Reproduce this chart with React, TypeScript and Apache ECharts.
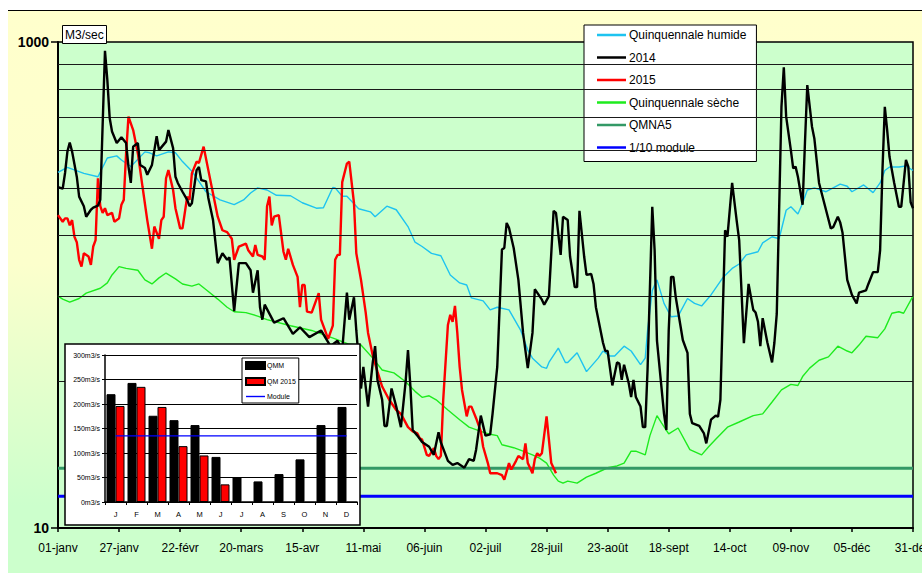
import React, { useEffect, useRef } from "react";
import * as echarts from "echarts";

const FONT = "'Liberation Sans', Arial, sans-serif";

// x axis: day of year (0 = 01-janv), tick every 26 days
const tickLabels = ["01-janv", "27-janv", "22-févr", "20-mars", "15-avr", "11-mai", "06-juin", "02-juil", "28-juil", "23-août", "18-sept", "14-oct", "09-nov", "05-déc", "31-déc"];
const tickStep = 26;
const yearEnd = 364;

// horizontal reference gridlines of the main chart (m3/s)
const gridValues = [40, 90, 160, 250, 360, 490, 640, 810];

// [day, m3/s]
const humideData: [number, number][] = [
  [0, 291], [4, 305], [11, 288], [17, 279], [21, 333], [25, 340], [27, 327], [31, 307], [37, 353], [39, 350],
  [42, 340], [47, 353], [50, 350], [53, 322], [57, 294], [63, 242], [69, 224], [75, 214], [79, 224], [82, 239],
  [85, 251], [89, 246], [93, 234], [99, 233], [104, 218], [110, 207], [113, 208], [117, 252], [118, 251], [121, 232],
  [123, 232], [128, 206], [133, 200], [135, 191], [140, 211], [144, 204], [149, 174], [152, 150], [155, 144], [159, 135],
  [163, 132], [167, 110], [171, 102], [174, 100], [176, 88.5], [181, 86], [184, 79], [187, 81], [192, 79], [197, 65],
  [200, 54], [202, 50], [206, 46], [208, 45.4], [209, 48], [213, 55], [216, 48], [217, 48], [221, 52.6], [225, 44],
  [230, 50], [232, 53.5], [235, 51], [237, 51], [241, 56], [244, 53.5], [248, 47], [250, 50], [251, 65], [253, 95],
  [255, 105], [258, 84], [261, 74], [264, 74.5], [268, 88], [271, 84], [274, 82], [278, 91], [283, 107], [287, 117],
  [290, 122], [293, 133], [298, 137], [300, 149], [304, 158], [307, 155], [310, 203], [312, 210], [315, 196], [317, 217],
  [319, 246], [322, 251], [327, 242], [333, 260], [336, 255], [338, 242], [343, 258], [347, 240], [350, 263], [352, 296],
  [354, 306], [358, 306], [361, 309], [364, 296]
];

const data2014: [number, number][] = [
  [0, 253], [2, 249], [3, 289], [4, 354], [5, 386], [6, 354], [8, 279], [9, 231], [11, 211], [12, 191],
  [14, 204], [15, 208], [17, 212], [18, 224], [20, 920], [21, 698], [22, 487], [23, 428], [25, 384], [27, 406],
  [29, 384], [30, 307], [31, 263], [32, 371], [34, 384], [35, 312], [37, 303], [38, 284], [40, 312], [42, 410],
  [43, 359], [46, 389], [47, 434], [49, 366], [50, 279], [51, 263], [53, 242], [55, 224], [56, 211], [57, 217],
  [59, 297], [60, 306], [61, 270], [63, 267], [64, 228], [66, 185], [68, 123], [70, 135], [72, 127], [73, 130],
  [75, 78], [77, 123], [80, 123], [82, 115], [83, 93], [85, 115], [86, 81], [87, 72], [88, 83], [92, 70],
  [96, 73], [100, 63], [103, 67], [107, 61], [112, 65], [116, 56], [119, 59], [121, 54], [123, 93], [124, 72],
  [126, 89], [127, 65], [129, 37.5], [130, 46], [132, 31.6], [134, 48], [135, 56], [136, 40.7], [138, 33.7], [139, 26.3],
  [140, 26.3], [142, 37.5], [144, 31.6], [146, 26], [148, 40], [149, 54], [150, 38.6], [151, 25.3], [153, 24], [155, 22.6],
  [158, 21.6], [160, 20], [162, 24.8], [163, 22.5], [166, 18.9], [168, 18.2], [170, 18.5], [173, 17.7], [175, 19.2], [177, 18.9],
  [178, 21], [180, 29], [182, 24], [184, 24.3], [185, 29.5], [187, 46], [189, 140], [190, 142], [191, 180], [192, 172],
  [194, 142], [196, 105], [198, 63.5], [200, 45.5], [202, 63.5], [203, 96], [204, 93], [206, 87], [207, 83], [209, 90],
  [211, 202], [212, 198], [214, 133], [215, 191], [217, 185], [218, 131], [220, 98], [221, 98], [222, 202], [224, 131],
  [225, 110], [227, 111], [228, 101], [229, 81], [232, 58], [233, 53.5], [234, 53.5], [236, 38.6], [238, 48], [239, 47.5],
  [240, 40.7], [241, 47], [243, 39.3], [244, 34.6], [245, 40.7], [246, 34.6], [248, 31.6], [249, 26], [250, 26], [251, 45],
  [253, 210], [254, 139], [255, 59], [258, 29.5], [259, 25.3], [260, 65], [261, 108], [262, 108], [263, 89], [266, 59.4],
  [268, 52.6], [269, 29.5], [270, 27], [273, 26.3], [275, 24.5], [276, 22.3], [278, 27.9], [280, 29], [281, 28.7], [282, 33.7],
  [283, 76], [284, 168], [285, 158], [287, 263], [289, 182], [290, 153], [292, 57.6], [294, 101], [296, 79], [297, 77],
  [298, 70.6], [299, 56], [300, 73], [302, 58], [304, 48], [305, 58], [306, 76], [308, 541], [309, 787], [310, 493],
  [312, 359], [313, 302], [314, 307], [315, 279], [317, 214], [318, 384], [319, 665], [321, 448], [322, 401], [324, 263],
  [327, 203], [329, 171], [330, 173], [332, 191], [333, 181], [334, 164], [336, 105], [338, 91], [340, 84], [341, 93],
  [344, 95], [345, 101], [347, 113], [349, 113], [350, 139], [351, 297], [352, 541], [353, 434], [354, 337], [356, 263],
  [358, 210], [359, 210], [361, 327], [362, 307], [363, 219], [364, 207]
];

const data2015: [number, number][] = [
  [0, 194], [2, 182], [3, 188], [4, 188], [5, 176], [6, 185], [7, 158], [8, 150], [9, 127], [10, 119],
  [11, 135], [13, 131], [14, 121], [15, 144], [16, 153], [17, 275], [18, 211], [19, 198], [20, 207], [21, 194],
  [23, 198], [24, 182], [26, 188], [27, 214], [28, 224], [29, 349], [30, 493], [32, 434], [34, 348], [36, 253],
  [38, 185], [40, 141], [41, 174], [43, 155], [44, 185], [45, 191], [46, 275], [47, 297], [49, 246], [50, 207],
  [52, 171], [53, 171], [55, 231], [56, 224], [57, 288], [59, 322], [60, 318], [62, 371], [64, 297], [66, 238],
  [68, 191], [70, 168], [72, 165], [74, 155], [75, 127], [77, 144], [80, 148], [81, 139], [83, 131], [84, 146],
  [85, 133], [87, 131], [88, 127], [89, 211], [90, 231], [91, 176], [92, 191], [94, 194], [96, 137], [97, 127],
  [98, 141], [100, 121], [102, 108], [103, 81], [104, 100], [105, 100], [106, 77.7], [108, 77], [111, 92.6], [112, 72],
  [115, 60], [117, 68], [118, 127], [119, 133], [120, 133], [121, 265], [123, 316], [124, 322], [126, 218], [127, 135],
  [129, 105], [131, 77], [132, 63.5], [134, 51.3], [136, 44], [138, 38.2], [141, 33.7], [144, 30.6], [146, 29.5], [149, 26],
  [151, 25], [153, 24.5], [154, 23.4], [155, 23.1], [157, 20], [158, 19.8], [160, 21.3], [161, 19.8], [162, 19.2], [163, 19.8],
  [164, 33.7], [166, 68.5], [167, 75.4], [168, 70.6], [169, 82], [170, 63.5], [171, 46], [172, 37], [174, 28.8], [175, 31.6],
  [176, 31.6], [178, 28.3], [180, 25], [181, 21.6], [183, 18.5], [184, 16.8], [187, 16.8], [189, 16.5], [190, 15.8], [192, 18.5],
  [193, 17.4], [195, 18.9], [196, 19.8], [198, 19.2], [199, 22.3], [200, 18.5], [202, 16.8], [203, 19.2], [204, 20.3], [205, 19.8],
  [206, 20.3], [208, 28.8], [209, 23.1], [210, 18.5], [212, 16.8]
];

const secheData: [number, number][] = [
  [0, 90], [2, 87.5], [5, 85], [9, 88], [12, 92.6], [18, 97], [21, 102], [23, 110], [26, 119], [29, 117],
  [34, 115], [37, 105], [40, 101], [43, 107], [46, 112], [50, 106], [53, 101], [57, 99], [60, 101], [64, 94],
  [68, 87.5], [72, 81], [75, 77.6], [80, 77], [85, 74.5], [89, 72], [99, 68], [108, 65], [118, 60], [124, 57],
  [129, 56.6], [134, 50], [138, 44.7], [143, 43.5], [148, 40], [152, 36.5], [155, 34.5], [158, 35], [161, 33.7], [166, 30.6],
  [171, 27.9], [175, 26], [180, 25], [184, 24.3], [187, 24], [189, 22], [194, 21.4], [198, 20.7], [202, 20], [205, 19.4],
  [208, 18.5], [211, 16.5], [213, 15.6], [215, 15.3], [217, 15.6], [221, 15.3], [225, 16.2], [229, 16.8], [234, 17.7], [238, 18],
  [241, 18.5], [244, 20.7], [246, 20.7], [250, 20], [252, 24], [255, 29], [257, 27], [260, 24.4], [264, 25.8], [269, 21],
  [274, 20], [277, 21.6], [280, 23.2], [285, 26], [290, 27.3], [296, 29], [300, 29.5], [304, 33], [308, 37], [312, 39],
  [315, 38.6], [317, 42], [320, 45.5], [324, 49], [328, 50.6], [332, 56], [336, 53.5], [338, 52.6], [341, 56.6], [344, 61.5],
  [349, 60.7], [352, 66], [355, 76.5], [358, 77.6], [360, 76.5], [364, 90]
];

const qmna5 = 17.6;
const moduleValue = 135;

// inset monthly chart
const monthLabels = ["J", "F", "M", "A", "M", "J", "J", "A", "S", "O", "N", "D"];
const qmmValues = [220, 243, 176, 167, 157, 92, 50, 42, 57, 87, 157, 194];
const qm2015Values: (number | string)[] = [196, 235, 194, 114, 95, 36, "-", "-", "-", "-", "-", "-"];

const LINE_ICON = "path://M0,0L30,0L30,2.6L0,2.6Z";

export default function App() {
  const ref = useRef<HTMLDivElement>(null);

  useEffect(() => {
    if (!ref.current) return;
    const chart = echarts.init(ref.current, null, { renderer: "svg" });

    const option: any = {
      animation: false,
      textStyle: { fontFamily: FONT },
      title: {
        text: "M3/sec",
        left: 62,
        top: 25,
        padding: [4, 3, 3, 3],
        backgroundColor: "#fff",
        borderColor: "#000",
        borderWidth: 1,
        textStyle: { fontSize: 12, fontWeight: "normal", color: "#000", fontFamily: FONT }
      },
      legend: [
        {
          data: [
            { name: "Quinquennale humide", icon: LINE_ICON },
            { name: "2014", icon: LINE_ICON },
            { name: "2015", icon: LINE_ICON },
            { name: "Quinquennale sèche", icon: LINE_ICON },
            { name: "QMNA5", icon: LINE_ICON },
            { name: "1/10 module", icon: LINE_ICON }
          ],
          orient: "vertical",
          left: 584,
          top: 25,
          padding: [4, 10, 8, 13],
          itemGap: 10.5,
          itemWidth: 29,
          itemHeight: 12,
          backgroundColor: "#fff",
          borderColor: "#000",
          borderWidth: 1,
          selectedMode: false,
          textStyle: { fontSize: 12, color: "#000", fontFamily: FONT, padding: [0, 0, 0, -2] }
        },
        {
          data: [
            { name: "QMM", icon: "rect" },
            { name: "QM 2015", icon: "rect" },
            { name: "Module", icon: "path://M0,0L30,0L30,2.2L0,2.2Z" }
          ],
          orient: "vertical",
          left: 242,
          top: 358,
          padding: [3, 3, 3, 3],
          itemGap: 7,
          itemWidth: 19,
          itemHeight: 7,
          backgroundColor: "#fff",
          borderColor: "#000",
          borderWidth: 1,
          selectedMode: false,
          z: 70,
          textStyle: { fontSize: 7, color: "#000", fontFamily: FONT, padding: [0, 0, 0, -3] }
        }
      ],
      grid: [
        { left: 58, right: 9, top: 42, bottom: 45, show: true, backgroundColor: "#CCFFCC", borderColor: "#000", borderWidth: 1.5, z: 0, outerBoundsMode: "none", containLabel: false },
        { left: 105, right: 565, top: 355, bottom: 71, z: 55, outerBoundsMode: "none", containLabel: false }
      ],
      graphic: [
        {
          type: "rect",
          z: 50,
          shape: { x: 65, y: 344, width: 295, height: 181 },
          style: { fill: "#fff", stroke: "#000", lineWidth: 1.5 }
        }
      ],
      xAxis: [
        {
          type: "value",
          gridIndex: 0,
          min: 0,
          max: yearEnd,
          interval: tickStep,
          axisLine: { show: true, lineStyle: { color: "#000", width: 2 } },
          axisTick: { show: true, length: 4, lineStyle: { color: "#000", width: 1.5 } },
          axisLabel: {
            color: "#000",
            fontSize: 12,
            margin: 14,
            fontFamily: FONT,
            formatter: (v: number) => tickLabels[Math.round(v / tickStep)] ?? ""
          },
          splitLine: { show: false }
        },
        {
          type: "category",
          gridIndex: 1,
          data: monthLabels,
          z: 55,
          axisLine: { show: true, lineStyle: { color: "#000", width: 1.5 } },
          axisTick: { show: true, length: 3, lineStyle: { color: "#000" } },
          axisLabel: { color: "#000", fontSize: 7.5, margin: 8, fontFamily: FONT, interval: 0 },
          splitLine: { show: false }
        }
      ],
      yAxis: [
        {
          type: "log",
          logBase: 10,
          gridIndex: 0,
          min: 10,
          max: 1000,
          axisLine: { show: true, lineStyle: { color: "#000", width: 2 } },
          axisTick: { show: true, length: 7, lineStyle: { color: "#000", width: 1.5 }, customValues: [10, 1000] },
          axisLabel: {
            customValues: [10, 1000],
            color: "#000",
            fontSize: 14,
            fontWeight: "bold",
            margin: 9,
            fontFamily: FONT,
            formatter: (v: number) => (Math.abs(v - 10) < 1e-6 || Math.abs(v - 1000) < 1e-6 ? String(Math.round(v)) : "")
          },
          splitLine: { show: false },
          minorTick: { show: false }
        },
        {
          type: "value",
          gridIndex: 1,
          min: 0,
          max: 300,
          interval: 50,
          z: 55,
          axisLine: { show: true, lineStyle: { color: "#000", width: 1.5 } },
          axisTick: { show: true, length: 3, lineStyle: { color: "#000" } },
          axisLabel: { color: "#000", fontSize: 7, margin: 5, fontFamily: FONT, formatter: "{value}m3/s" },
          splitLine: { show: true, lineStyle: { color: "#000", width: 1 } }
        }
      ],
      series: [
        {
          name: "__grid",
          type: "line",
          data: [],
          z: 1,
          silent: true,
          markLine: {
            silent: true,
            symbol: "none",
            label: { show: false },
            lineStyle: { color: "#1a1a1a", width: 1.2, type: "solid" },
            data: gridValues.map((v) => ({ yAxis: v }))
          }
        },
        {
          name: "Quinquennale humide",
          type: "line",
          data: humideData,
          showSymbol: false,
          symbol: "none",
          z: 3,
          lineStyle: { color: "#1EC3F0", width: 1.4 },
          itemStyle: { color: "#1EC3F0" }
        },
        {
          name: "Quinquennale sèche",
          type: "line",
          data: secheData,
          showSymbol: false,
          symbol: "none",
          z: 3,
          lineStyle: { color: "#1EEB1E", width: 1.4 },
          itemStyle: { color: "#1EEB1E" }
        },
        {
          name: "QMNA5",
          type: "line",
          data: [[0, qmna5], [yearEnd, qmna5]],
          showSymbol: false,
          symbol: "none",
          z: 3,
          lineStyle: { color: "#339966", width: 3 },
          itemStyle: { color: "#339966" }
        },
        {
          name: "1/10 module",
          type: "line",
          data: [[0, moduleValue / 10], [yearEnd, moduleValue / 10]],
          showSymbol: false,
          symbol: "none",
          z: 3,
          lineStyle: { color: "#0000FF", width: 3 },
          itemStyle: { color: "#0000FF" }
        },
        {
          name: "2015",
          type: "line",
          data: data2015,
          showSymbol: false,
          symbol: "none",
          z: 4,
          lineStyle: { color: "#FF0000", width: 2.4 },
          itemStyle: { color: "#FF0000" }
        },
        {
          name: "2014",
          type: "line",
          data: data2014,
          showSymbol: false,
          symbol: "none",
          z: 5,
          lineStyle: { color: "#000000", width: 2.4 },
          itemStyle: { color: "#000000" }
        },
        {
          name: "QMM",
          type: "bar",
          xAxisIndex: 1,
          yAxisIndex: 1,
          data: qmmValues,
          barWidth: 9,
          barGap: "0%",
          z: 60,
          itemStyle: { color: "#000", borderColor: "#000", borderWidth: 1 }
        },
        {
          name: "QM 2015",
          type: "bar",
          xAxisIndex: 1,
          yAxisIndex: 1,
          data: qm2015Values,
          barWidth: 9,
          barGap: "0%",
          z: 60,
          itemStyle: { color: "#FF0000", borderColor: "#000", borderWidth: 1 }
        },
        {
          name: "Module",
          type: "line",
          xAxisIndex: 1,
          yAxisIndex: 1,
          data: monthLabels.map(() => moduleValue),
          showSymbol: false,
          symbol: "none",
          z: 62,
          lineStyle: { color: "#0000FF", width: 1.3 },
          itemStyle: { color: "#0000FF" }
        }
      ]
    };

    chart.setOption(option);
    return () => chart.dispose();
  }, []);

  return (
    <div style={{ position: "fixed", left: 0, top: 0, width: 922, height: 573, overflow: "hidden", background: "#fff" }}>
      <div
        style={{
          position: "absolute",
          left: 8,
          top: 10,
          right: 0,
          bottom: 0,
          borderTop: "1px solid #000",
          background: "linear-gradient(to bottom, #FFFFCC 0%, #FCFFCC 45%, #CCFFCC 88%, #CCFFCC 100%)"
        }}
      />
      <div ref={ref} style={{ position: "absolute", left: 0, top: 0, width: 922, height: 573 }} />
    </div>
  );
}
